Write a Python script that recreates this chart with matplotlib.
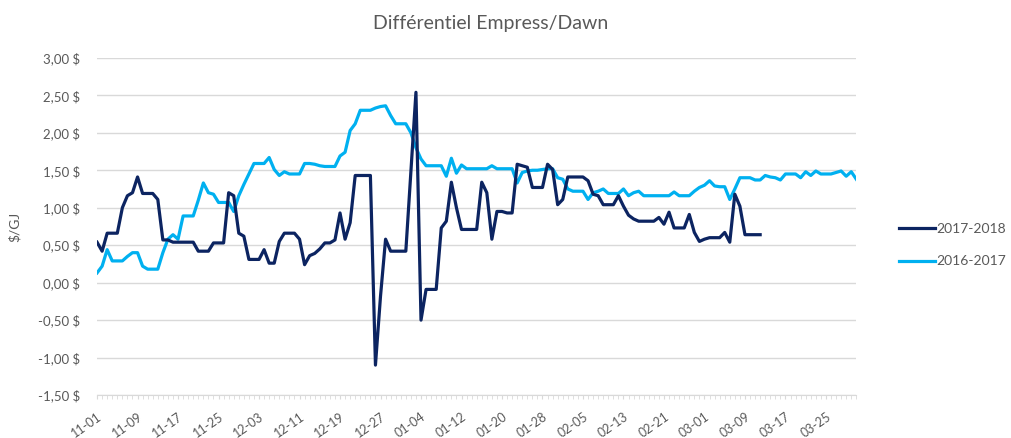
import numpy as np
import pandas as pd
import matplotlib
matplotlib.use("Agg")
import matplotlib.pyplot as plt
from matplotlib.ticker import FixedLocator, MultipleLocator

plt.rcParams['font.family'] = ['Lato', 'DejaVu Sans']

# daily trading days from Nov 1 to Mar 31
dates = pd.date_range('2017-11-01', '2018-03-31', freq='D')
tick_labels = [d.strftime('%m-%d') for d in dates]

# 2017-2018 season (stops mid-March)
diff_1718 = [
    0.54, 0.42, 0.66, 0.66, 0.66, 1.00, 1.16, 1.20, 1.41, 1.19,
    1.19, 1.19, 1.11, 0.57, 0.57, 0.54, 0.54, 0.54, 0.54, 0.54,
    0.42, 0.42, 0.42, 0.53, 0.53, 0.53, 1.20, 1.16, 0.66, 0.62,
    0.31, 0.31, 0.31, 0.44, 0.26, 0.26, 0.55, 0.66, 0.66, 0.66,
    0.58, 0.24, 0.36, 0.39, 0.45, 0.53, 0.53, 0.57, 0.93, 0.58,
    0.80, 1.43, 1.43, 1.43, 1.43, -1.10, -0.18, 0.58, 0.42, 0.42,
    0.42, 0.42, 1.48, 2.54, -0.50, -0.09, -0.09, -0.09, 0.73, 0.82,
    1.34, 1.00, 0.71, 0.71, 0.71, 0.71, 1.34, 1.20, 0.58, 0.95,
    0.95, 0.93, 0.93, 1.58, 1.56, 1.54, 1.27, 1.27, 1.27, 1.58,
    1.51, 1.04, 1.11, 1.41, 1.41, 1.41, 1.41, 1.36, 1.18, 1.16,
    1.04, 1.04, 1.04, 1.16, 1.02, 0.90, 0.85, 0.82, 0.82, 0.82,
    0.82, 0.87, 0.78, 0.94, 0.73, 0.73, 0.73, 0.91, 0.67, 0.55,
    0.58, 0.60, 0.60, 0.60, 0.67, 0.54, 1.18, 1.02, 0.64, 0.64,
    0.64, 0.64,
]

# 2016-2017 season (full winter)
diff_1617 = [
    0.13, 0.22, 0.44, 0.29, 0.29, 0.29, 0.35, 0.40, 0.40, 0.22,
    0.18, 0.18, 0.18, 0.40, 0.58, 0.64, 0.58, 0.89, 0.89, 0.89,
    1.10, 1.33, 1.20, 1.18, 1.07, 1.07, 1.07, 0.95, 1.16, 1.31,
    1.45, 1.59, 1.59, 1.59, 1.67, 1.51, 1.43, 1.48, 1.45, 1.45,
    1.45, 1.59, 1.59, 1.58, 1.56, 1.55, 1.55, 1.55, 1.69, 1.74,
    2.03, 2.12, 2.30, 2.30, 2.30, 2.33, 2.35, 2.36, 2.23, 2.12,
    2.12, 2.12, 2.00, 1.80, 1.65, 1.56, 1.56, 1.56, 1.56, 1.42,
    1.66, 1.46, 1.57, 1.52, 1.52, 1.52, 1.52, 1.52, 1.56, 1.52,
    1.52, 1.52, 1.52, 1.33, 1.47, 1.49, 1.50, 1.50, 1.51, 1.52,
    1.52, 1.40, 1.38, 1.25, 1.22, 1.22, 1.22, 1.11, 1.20, 1.22,
    1.25, 1.19, 1.19, 1.19, 1.25, 1.16, 1.20, 1.22, 1.16, 1.16,
    1.16, 1.16, 1.16, 1.16, 1.21, 1.16, 1.16, 1.16, 1.22, 1.27,
    1.30, 1.36, 1.29, 1.28, 1.28, 1.11, 1.25, 1.40, 1.40, 1.40,
    1.37, 1.37, 1.43, 1.41, 1.40, 1.37, 1.45, 1.45, 1.45, 1.40,
    1.48, 1.43, 1.49, 1.45, 1.45, 1.45, 1.47, 1.49, 1.42, 1.48,
    1.38,
]

navy = '#0c2461'
sky = '#00b0f0'
grey = '#595959'

fig = plt.figure(figsize=(10.11, 4.38), dpi=100)
ax = fig.add_axes([0.096, 0.098, 0.751, 0.770])

ax.plot(np.arange(len(diff_1617)), diff_1617, color=sky, lw=2.3,
        label='2016-2017', zorder=3, solid_joinstyle='round')
ax.plot(np.arange(len(diff_1718)), diff_1718, color=navy, lw=2.3,
        label='2017-2018', zorder=4, solid_joinstyle='round')

ax.set_xlim(0, len(dates) - 1)
ax.set_ylim(-1.5, 3.0)

ax.yaxis.set_major_locator(MultipleLocator(0.5))
ax.set_yticklabels([f"{v:.2f}".replace('.', ',') + ' $' for v in ax.get_yticks()])
ax.grid(axis='y', color='#d9d9d9', lw=1)
ax.set_axisbelow(True)

# labels every 8 days, a small tick for each day
major = list(range(0, len(dates), 8))
ax.xaxis.set_major_locator(FixedLocator(major))
ax.set_xticklabels([tick_labels[i] for i in major], rotation=35, ha='right',
                   rotation_mode='anchor')
ax.xaxis.set_minor_locator(FixedLocator(range(len(dates))))
ax.tick_params(axis='x', which='both', length=3, color='#d9d9d9', labelsize=9,
               labelcolor=grey, pad=8)
ax.tick_params(axis='y', length=0, labelsize=9.5, labelcolor=grey, pad=12)

for side in ('top', 'right', 'left'):
    ax.spines[side].set_visible(False)
ax.spines['bottom'].set_color('#d9d9d9')

ax.set_ylabel('$/GJ', color=grey, fontsize=10)
ax.yaxis.set_label_coords(-0.1, 0.5)

fig.suptitle('Différentiel Empress/Dawn', x=0.485, y=0.965, fontsize=14, color=grey)

handles, labels = ax.get_legend_handles_labels()
ax.legend(handles[::-1], labels[::-1], loc='center left', bbox_to_anchor=(1.04, 0.445),
          frameon=False, fontsize=10, labelcolor=grey, handlelength=2.6,
          handletextpad=0.1, labelspacing=1.5)

fig.savefig('out.png', dpi=100)
